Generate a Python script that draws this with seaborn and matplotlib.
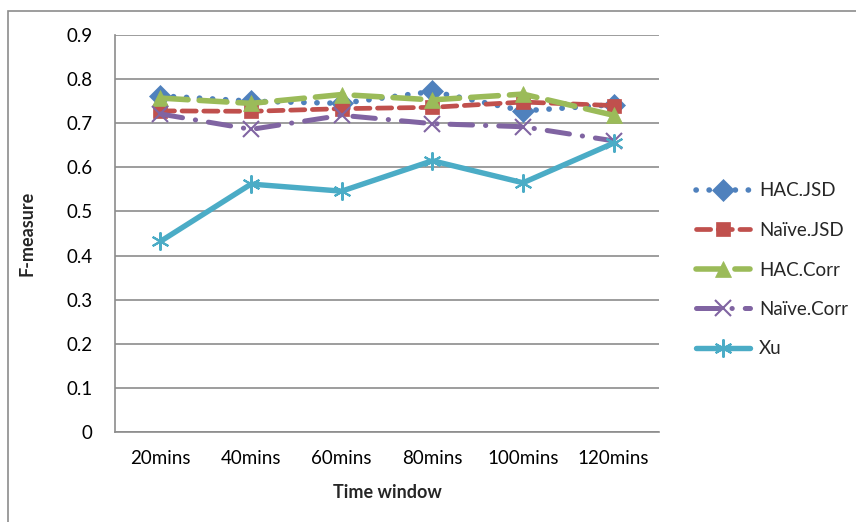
import matplotlib
matplotlib.use("Agg")
import matplotlib.pyplot as plt
import seaborn as sns
from matplotlib.patches import Rectangle

categories = ["20mins", "40mins", "60mins", "80mins", "100mins", "120mins"]
hac_jsd = [0.762, 0.750, 0.745, 0.772, 0.728, 0.742]
naive_jsd = [0.728, 0.727, 0.733, 0.736, 0.748, 0.740]
hac_corr = [0.757, 0.745, 0.765, 0.753, 0.766, 0.718]
naive_corr = [0.721, 0.686, 0.718, 0.699, 0.692, 0.660]
xu = [0.432, 0.562, 0.546, 0.615, 0.565, 0.655]

yticks = [0, 0.1, 0.2, 0.3, 0.4, 0.5, 0.6, 0.7, 0.8, 0.9]
ytick_labels = ["0", "0.1", "0.2", "0.3", "0.4", "0.5", "0.6", "0.7", "0.8", "0.9"]

sns.set_theme(style="white")
plt.rcParams["font.family"] = ["Lato", "DejaVu Sans"]

fig = plt.figure(figsize=(8.56, 5.22), dpi=100)
ax = fig.add_axes([115 / 856, 90 / 522, 544 / 856, 397 / 522])

series = [
    ("HAC.JSD", hac_jsd, "#4F81BD", "D", 11, (0, (0.05, 2.3)), 4.0),
    ("Naïve.JSD", naive_jsd, "#C0504D", "s", 10, (0, (3.0, 1.6)), 3.4),
    ("HAC.Corr", hac_corr, "#9BBB59", "^", 12, (0, (5.0, 2.0)), 4.0),
    ("Naïve.Corr", naive_corr, "#8064A2", "x", 11, (0, (4.5, 2.6, 0.05, 2.6)), 3.6),
    ("Xu", xu, "#4BACC6", (6, 2, 0), 13, "-", 3.9),
]

for name, vals, color, marker, ms, ls, lw in series:
    sns.lineplot(x=categories, y=vals, ax=ax, color=color, marker=marker,
                 markersize=ms, linewidth=lw, label=name, sort=False,
                 markeredgecolor=color, markeredgewidth=1.5 if marker in ("x", (6, 2, 0)) else 0.5)
    line = ax.lines[-1]
    line.set_linestyle(ls)
    line.set_dash_capstyle("round")
    line.set_solid_capstyle("round")

ax.set_xlim(-0.5, 5.5)
ax.set_ylim(0, 0.9)
ax.set_yticks(yticks)
ax.set_yticklabels(ytick_labels)
ax.yaxis.grid(True, color="#8c8c8c", linewidth=1.2)
ax.xaxis.grid(False)
for s in ["top", "right"]:
    ax.spines[s].set_visible(False)
ax.spines["left"].set_color("#8c8c8c")
ax.spines["bottom"].set_color("#8c8c8c")
ax.spines["left"].set_linewidth(1.2)
ax.spines["bottom"].set_linewidth(1.2)
ax.tick_params(axis="both", length=0, labelsize=13.5, colors="black")
ax.tick_params(axis="y", pad=16)
ax.tick_params(axis="x", pad=13)
ax.set_xlabel("Time window", fontsize=13, fontweight="bold", labelpad=12)
ax.set_ylabel("F-measure", fontsize=13, fontweight="bold", labelpad=22)

ax.legend(loc="center left", bbox_to_anchor=(688 / 856, (522 - 270) / 522),
          bbox_transform=fig.transFigure, frameon=False, fontsize=13.5,
          handlelength=2.9, labelspacing=1.2, handletextpad=0.5, borderaxespad=0)

fig.patches.append(Rectangle((8 / 856, -0.1), 1.2, (522 - 11) / 522 + 0.1,
                             transform=fig.transFigure, fill=False,
                             edgecolor="#8c8c8c", linewidth=1.2))

fig.savefig("out.png", dpi=100)
